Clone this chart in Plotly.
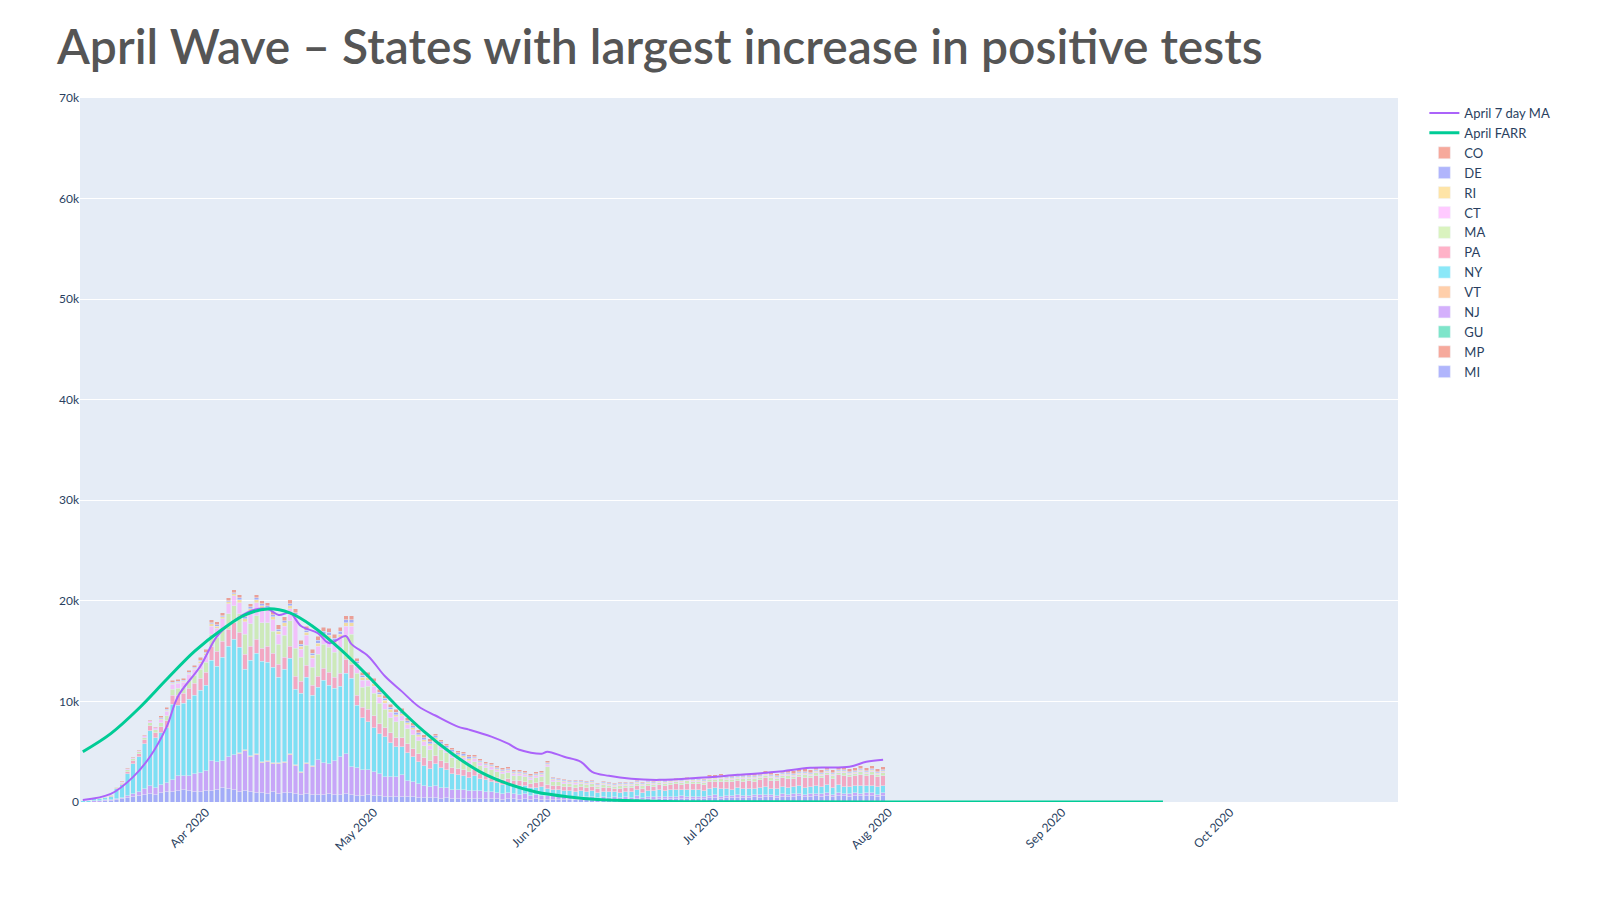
import pandas as pd
import plotly.graph_objects as go

# daily positive tests per state, in hundreds, starting 2020-03-10
dates = pd.date_range('2020-03-10', '2020-07-31', freq='D')

ny = [1, 1, 2, 2, 2, 3, 10,
      13, 22, 30, 35, 45, 55, 50,
      52, 55, 75, 70, 72, 76, 78,
      82, 85, 100, 95, 103, 110, 115,
      105, 80, 95, 100, 100, 98, 95,
      85, 92, 95, 75, 78, 85, 70,
      72, 82, 78, 72, 70, 80, 88,
      62, 52, 48, 44, 40, 40, 34,
      30, 28, 28, 25, 22, 20, 18,
      22, 20, 18, 16, 15, 14, 13,
      15, 12, 12, 10, 10, 9, 9,
      8, 9, 8, 8, 7, 9, 7,
      6, 7, 6, 6, 5, 6, 5,
      6, 5, 5, 6, 5, 5, 5,
      6, 6, 5, 6, 6, 7, 6,
      7, 7, 6, 7, 7, 7, 6,
      7, 7, 8, 7, 6, 7, 7,
      7, 6, 7, 8, 6, 7, 7,
      7, 7, 8, 7, 7, 8, 7,
      8, 7, 8, 7, 7, 7, 8,
      7, 7, 8, 7]
nj = [0, 0, 1, 1, 1, 1, 1,
      1, 2, 3, 4, 6, 8, 7,
      8, 9, 12, 15, 14, 15, 18,
      19, 20, 30, 28, 27, 32, 35,
      38, 40, 35, 38, 30, 32, 28,
      30, 30, 38, 28, 22, 30, 28,
      35, 32, 30, 34, 38, 40, 28,
      28, 26, 25, 24, 22, 20, 20,
      20, 22, 16, 15, 14, 12, 11,
      12, 11, 10, 9, 9, 9, 8,
      8, 8, 7, 7, 6, 6, 6,
      5, 5, 5, 4, 4, 4, 4,
      4, 3, 3, 3, 3, 3, 3,
      3, 2, 3, 2, 3, 2, 3,
      2, 3, 2, 2, 3, 2, 2,
      2, 2, 3, 2, 2, 2, 2,
      2, 3, 2, 2, 2, 3, 2,
      2, 2, 3, 2, 2, 2, 3,
      2, 3, 2, 2, 3, 2, 3,
      3, 2, 3, 2, 3, 3, 2,
      3, 3, 2, 3]
ma = [0, 0, 0, 1, 1, 1, 1,
      1, 2, 2, 2, 2, 3, 3,
      4, 5, 6, 7, 6, 8, 8,
      9, 10, 12, 14, 13, 15, 17,
      18, 20, 22, 23, 25, 23, 22,
      20, 22, 25, 28, 24, 20, 18,
      22, 24, 25, 25, 26, 24, 30,
      22, 20, 23, 22, 20, 18, 15,
      16, 17, 15, 14, 13, 12, 11,
      12, 11, 10, 10, 9, 9, 8,
      8, 8, 7, 7, 6, 6, 6,
      5, 5, 5, 4, 5, 5, 18,
      4, 4, 3, 3, 3, 3, 3,
      3, 2, 3, 2, 2, 3, 2,
      2, 2, 3, 2, 2, 2, 2,
      2, 2, 2, 3, 2, 2, 2,
      2, 2, 3, 2, 2, 2, 3,
      2, 3, 2, 2, 3, 2, 2,
      3, 2, 2, 3, 2, 3, 2,
      2, 3, 2, 3, 2, 2, 3,
      2, 3, 2, 3]
pa = [0, 0, 0, 0, 0, 1, 1,
      1, 2, 3, 3, 4, 5, 5,
      6, 7, 9, 10, 10, 11, 12,
      12, 13, 14, 15, 16, 17, 16,
      15, 15, 14, 14, 13, 16, 14,
      13, 12, 12, 13, 12, 12, 10,
      11, 12, 13, 11, 13, 14, 14,
      10, 10, 12, 12, 10, 9, 10,
      9, 9, 9, 8, 8, 8, 8,
      8, 7, 7, 6, 6, 6, 6,
      6, 5, 5, 5, 5, 5, 5,
      5, 5, 4, 4, 5, 5, 4,
      4, 4, 4, 4, 4, 4, 4,
      4, 4, 4, 4, 3, 4, 4,
      4, 4, 4, 5, 4, 5, 5,
      5, 6, 5, 6, 6, 6, 6,
      7, 6, 7, 7, 8, 7, 7,
      8, 7, 8, 9, 8, 8, 9,
      9, 8, 9, 10, 9, 10, 9,
      10, 9, 10, 11, 10, 10, 11,
      10, 11, 10, 10]
ct = [0, 0, 0, 0, 0, 0, 0,
      1, 1, 1, 1, 2, 2, 2,
      3, 4, 5, 5, 5, 6, 6,
      6, 7, 8, 9, 9, 10, 10,
      11, 12, 12, 13, 14, 12, 11,
      10, 9, 12, 30, 8, 10, 9,
      8, 7, 9, 8, 10, 9, 8,
      7, 7, 6, 7, 6, 6, 5,
      5, 5, 4, 5, 4, 4, 4,
      4, 4, 3, 4, 3, 3, 3,
      3, 3, 2, 3, 2, 2, 2,
      2, 2, 2, 2, 2, 2, 2,
      2, 1, 2, 1, 2, 1, 1,
      1, 1, 1, 1, 1, 1, 1,
      1, 1, 1, 1, 1, 1, 1,
      1, 1, 1, 1, 1, 1, 1,
      1, 1, 1, 1, 1, 1, 1,
      1, 1, 1, 1, 1, 1, 1,
      1, 1, 1, 1, 1, 1, 1,
      1, 1, 1, 1, 1, 1, 1,
      1, 1, 1, 1]
mi = [0, 0, 0, 0, 1, 1, 2,
      3, 4, 5, 6, 7, 8, 7,
      9, 10, 10, 11, 12, 11, 10,
      10, 11, 11, 12, 14, 13, 12,
      10, 11, 10, 9, 9, 8, 10,
      8, 9, 9, 8, 7, 8, 7,
      7, 7, 8, 7, 7, 8, 7,
      6, 6, 7, 6, 6, 5, 5,
      5, 5, 5, 5, 4, 4, 4,
      4, 3, 4, 3, 3, 3, 3,
      3, 3, 3, 3, 3, 2, 3,
      3, 2, 3, 2, 3, 2, 2,
      2, 2, 2, 2, 2, 2, 2,
      2, 2, 2, 2, 2, 2, 2,
      2, 3, 2, 3, 2, 3, 3,
      3, 3, 3, 3, 3, 3, 3,
      4, 4, 3, 4, 4, 4, 4,
      4, 5, 4, 5, 5, 4, 5,
      5, 5, 6, 5, 5, 6, 5,
      6, 5, 6, 6, 5, 6, 6,
      6, 6, 5, 6]

# smaller states, weekly level in hundreds (21 weeks)
co_wk = [0, 1, 2, 3, 3, 4, 4, 3, 3, 2, 2, 2, 1, 1, 1, 1, 2, 2, 3, 3, 3]
de_wk = [0, 0, 1, 1, 2, 2, 3, 2, 2, 2, 1, 1, 1, 1, 1, 1, 1, 1, 1, 1, 1]
ri_wk = [0, 0, 1, 2, 3, 3, 3, 3, 2, 2, 1, 1, 1, 1, 1, 1, 1, 1, 1, 1, 1]
vt_wk = [0, 0, 0, 0, 1, 1, 0, 0, 0, 0, 0, 0, 0, 0, 0, 0, 0, 0, 0, 0, 0]
gu_wk = [0, 0, 0, 0, 0, 0, 0, 0, 0, 0, 0, 0, 0, 0, 0, 0, 0, 0, 0, 0, 0]
mp_wk = [0, 0, 0, 0, 0, 0, 0, 0, 0, 0, 0, 0, 0, 0, 0, 0, 0, 0, 0, 0, 0]

# 7-day moving average and FARR fit (thousands)
ma_dates = ['2020-03-10', '2020-03-15', '2020-03-19', '2020-03-22', '2020-03-25', '2020-03-27',
            '2020-03-31', '2020-04-03', '2020-04-06', '2020-04-09', '2020-04-12', '2020-04-14',
            '2020-04-16', '2020-04-18', '2020-04-21', '2020-04-23', '2020-04-26', '2020-04-27',
            '2020-04-30', '2020-05-03', '2020-05-06', '2020-05-09', '2020-05-12', '2020-05-16',
            '2020-05-18', '2020-05-22', '2020-05-25', '2020-05-27', '2020-05-31', '2020-06-01',
            '2020-06-04', '2020-06-07', '2020-06-09', '2020-06-12', '2020-06-16', '2020-06-21',
            '2020-06-28', '2020-07-05', '2020-07-12', '2020-07-18', '2020-07-25', '2020-07-28',
            '2020-07-31']
ma_vals = [0.2, 0.8, 2.5, 4.5, 7.5, 10.5, 13.5, 16.5, 18, 19, 19.2, 18.6, 18.8, 17.5, 16.8,
           15.8, 16.5, 15.7, 14.5, 12.5, 11, 9.5, 8.6, 7.5, 7.2, 6.5, 5.8, 5.2, 4.8, 5.0, 4.5,
           4.0, 3.0, 2.6, 2.3, 2.2, 2.4, 2.7, 3.0, 3.4, 3.5, 4.0, 4.2]
farr_dates = ['2020-03-10', '2020-03-15', '2020-03-20', '2020-03-25', '2020-03-30', '2020-04-04',
              '2020-04-08', '2020-04-12', '2020-04-16', '2020-04-20', '2020-04-25', '2020-04-30',
              '2020-05-05', '2020-05-10', '2020-05-15', '2020-05-20', '2020-05-25', '2020-05-30',
              '2020-06-05', '2020-06-10', '2020-06-20', '2020-07-01', '2020-08-01', '2020-09-19']
farr_vals = [5.0, 6.8, 9.3, 12.2, 15.0, 17.2, 18.6, 19.2, 18.8, 17.5, 15.2, 12.5, 9.6, 7.0,
             4.8, 3.0, 1.8, 1.0, 0.5, 0.25, 0.08, 0.02, 0, 0]


def daily(wk):
    return [v for v in wk for _ in range(7)][:len(dates)]


fig = go.Figure()
fig.add_trace(go.Scatter(x=ma_dates, y=[v * 1000 for v in ma_vals], name='April 7 day MA',
                         mode='lines', line=dict(color='#AB63FA', width=2, shape='spline'),
                         legendrank=1))
fig.add_trace(go.Scatter(x=farr_dates, y=[v * 1000 for v in farr_vals], name='April FARR',
                         mode='lines', line=dict(color='#00CC96', width=3, shape='spline'),
                         legendrank=2))

# bottom to top of the stack
stack = [
    ('MI', mi, '#636EFA'), ('MP', daily(mp_wk), '#EF553B'), ('GU', daily(gu_wk), '#00CC96'),
    ('NJ', nj, '#AB63FA'), ('VT', daily(vt_wk), '#FFA15A'), ('NY', ny, '#19D3F3'),
    ('PA', pa, '#FF6692'), ('MA', ma, '#B6E880'), ('CT', ct, '#FF97FF'),
    ('RI', daily(ri_wk), '#FECB52'), ('DE', daily(de_wk), '#636EFA'), ('CO', daily(co_wk), '#EF553B'),
]
for i, (name, vals, color) in enumerate(stack):
    fig.add_trace(go.Bar(x=dates, y=[v * 100 for v in vals], name=name, marker_color=color,
                         opacity=0.5, legendrank=100 - i))

fig.update_layout(
    width=1580, height=880,
    barmode='stack',
    title=dict(text='April Wave – States with largest increase in positive tests',
               x=0.031, y=0.955, xanchor='left', yanchor='middle',
               font=dict(family='Lato', size=48, color='#555555', weight=600)),
    margin=dict(l=72, r=190, t=90, b=86, autoexpand=False),
    plot_bgcolor='#E5ECF6',
    font=dict(family='Lato', size=12, color='#2a3f5f'),
    xaxis=dict(range=['2020-03-09 12:00', '2020-10-31'], tickangle=-45, dtick='M1',
               tickformat='%b %Y', showgrid=False),
    yaxis=dict(range=[0, 70000], dtick=10000, gridcolor='white', zeroline=False),
    legend=dict(x=1.02, y=1, traceorder='normal', font=dict(size=13)),
)

fig.write_html('out.html')
